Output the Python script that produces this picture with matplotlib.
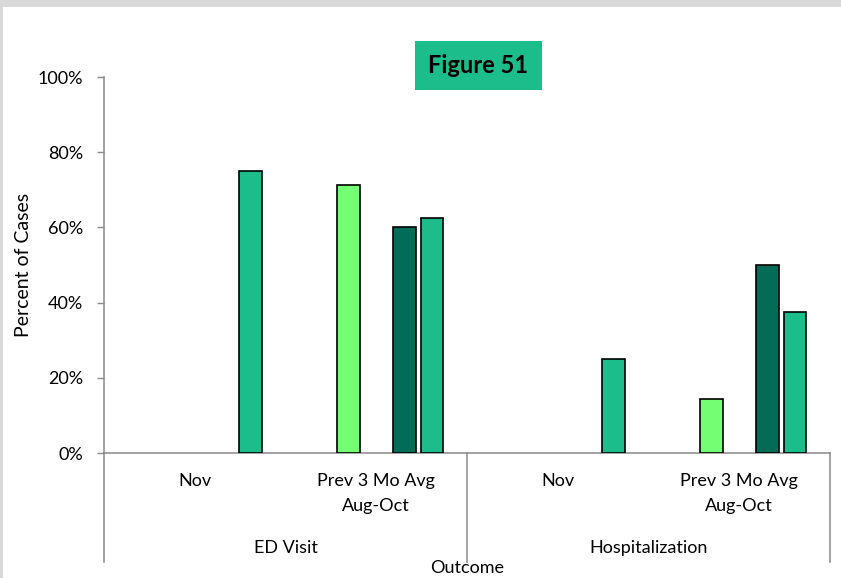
import matplotlib
matplotlib.use("Agg")
import matplotlib.pyplot as plt
import matplotlib.transforms as mtransforms
from matplotlib.patches import Rectangle
from matplotlib.ticker import PercentFormatter

plt.rcParams["font.family"] = ["Lato", "DejaVu Sans"]

# data ---------------------------------------------------------------------
outcomes = ["ED Visit", "Hospitalization"]
periods = ["Nov", "Prev 3 Mo Avg\nAug-Oct"]
# five series per period slot; series 1 and 3 have no cases shown
series_1 = [None, None, None, None]
series_2 = [None, 71.4, None, 14.3]
series_3 = [None, None, None, None]
series_4 = [None, 60.0, None, 50.0]
series_5 = [75.0, 62.5, 25.0, 37.5]
series_colors = ["#1cbd8b", "#74fe74", "#1cbd8b", "#036c57", "#1cbd8b"]
y_ticks = [0, 20, 40, 60, 80, 100]

all_series = [series_1, series_2, series_3, series_4, series_5]
n_cat = len(outcomes) * len(periods)

fig = plt.figure(figsize=(8.41, 5.78), dpi=100)
ax = fig.add_axes([104 / 841, 125 / 578, 726 / 841, 376 / 578])

slot = 0.154
width = 0.125
for i, (vals, color) in enumerate(zip(all_series, series_colors)):
    offset = (i - 2) * slot
    xs = [c + offset for c in range(n_cat) if vals[c] is not None]
    hs = [v for v in vals if v is not None]
    if xs:
        ax.bar(xs, hs, width=width, color=color, edgecolor="black", linewidth=1.2, zorder=3)

ax.set_xlim(-0.5, n_cat - 0.5)
ax.set_ylim(0, 100)
ax.set_yticks(y_ticks)
ax.yaxis.set_major_formatter(PercentFormatter(decimals=0))
ax.tick_params(axis="y", length=5, width=1, color="#898989", pad=10, labelsize=13)
ax.set_xticks([])
for side in ("top", "right"):
    ax.spines[side].set_visible(False)
for side in ("left", "bottom"):
    ax.spines[side].set_color("#898989")
    ax.spines[side].set_linewidth(1.1)
ax.set_ylabel("Percent of Cases", fontsize=14, labelpad=4)

# hierarchical category axis
trans = mtransforms.blended_transform_factory(ax.transData, ax.transAxes)
for x in (-0.5, 1.5, n_cat - 0.5):
    ax.plot([x, x], [0, -0.29], transform=trans, color="#898989", lw=1.1, clip_on=False)
for c in range(n_cat):
    ax.text(c, -0.052, periods[c % len(periods)], transform=trans, ha="center", va="top",
            fontsize=13, linespacing=1.75)
for g, name in enumerate(outcomes):
    ax.text(g * 2 + 0.5, -0.2527, name, transform=trans, ha="center", va="center", fontsize=13)
ax.text(1.5, -0.306, "Outcome", transform=trans, ha="center", va="center", fontsize=13)

# title badge
fig.text(478.5 / 841, 1 - 65.5 / 578, "Figure 51", ha="center", va="center", fontsize=17,
         fontweight="bold",
         bbox=dict(boxstyle="square,pad=0.55", facecolor="#1cbd8b", edgecolor="none"))

# grey frame edge from the source screenshot
fig.patches.append(Rectangle((0, 1 - 7 / 578), 1, 7 / 578, transform=fig.transFigure,
                             facecolor="#d9d9d9", edgecolor="none"))
fig.patches.append(Rectangle((0, 0), 3 / 841, 1, transform=fig.transFigure,
                             facecolor="#d9d9d9", edgecolor="none"))

fig.savefig("out.png", dpi=100)
